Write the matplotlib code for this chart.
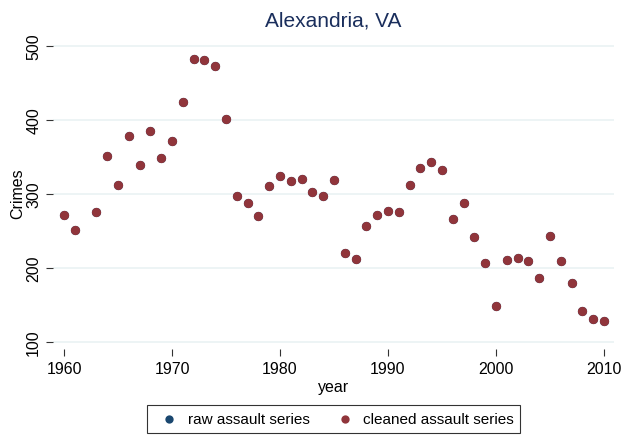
import matplotlib.pyplot as plt

plt.rcParams['font.family'] = ['Liberation Sans', 'DejaVu Sans']

# year / crimes (1962 missing in the source)
years = [1960, 1961, 1963, 1964, 1965, 1966, 1967, 1968, 1969, 1970,
         1971, 1972, 1973, 1974, 1975, 1976, 1977, 1978, 1979, 1980,
         1981, 1982, 1983, 1984, 1985, 1986, 1987, 1988, 1989, 1990,
         1991, 1992, 1993, 1994, 1995, 1996, 1997, 1998, 1999, 2000,
         2001, 2002, 2003, 2004, 2005, 2006, 2007, 2008, 2009, 2010]
raw_assault = [271, 251, 275, 351, 312, 378, 339, 385, 348, 371,
               424, 482, 481, 473, 401, 297, 288, 270, 311, 324,
               317, 320, 302, 297, 319, 220, 212, 256, 271, 277,
               275, 312, 335, 343, 332, 266, 288, 242, 206, 148,
               210, 213, 209, 186, 243, 209, 179, 142, 131, 128]
cleaned_assault = list(raw_assault)

xticks = [1960, 1970, 1980, 1990, 2000, 2010]
yticks = [100, 200, 300, 400, 500]

fig = plt.figure(figsize=(6.25, 4.39), dpi=100)
ax = fig.add_axes([0.0848, 0.2027, 0.8976, 0.7107])

ax.scatter(years, raw_assault, s=44, color='#1a476f', linewidths=0,
           label='raw assault series', zorder=3)
ax.scatter(years, cleaned_assault, s=44, color='#90353b', linewidths=0,
           label='cleaned assault series', zorder=4)

ax.set_xlim(1958.98, 2010.93)
ax.set_ylim(90.2, 512.2)
ax.set_xticks(xticks)
ax.set_yticks(yticks)
ax.grid(axis='y', color='#eaf2f3', linewidth=1.2)
ax.set_axisbelow(True)
for s in ax.spines.values():
    s.set_visible(False)
ax.tick_params(axis='both', length=5, width=0.8, color='#333333', labelsize=11.5)
ax.tick_params(axis='y', labelrotation=90)
for lab in ax.get_yticklabels():
    lab.set_va('center')

ax.set_xlabel('year', fontsize=11.5, labelpad=2)
ax.set_ylabel('Crimes', fontsize=11.5, labelpad=1)
ax.set_title('Alexandria, VA', fontsize=15, color='#1a2e5c', pad=8)

leg = fig.legend(loc='center', bbox_to_anchor=(0.534, 0.043), ncol=2,
                 frameon=True, fancybox=False, fontsize=11,
                 handletextpad=0.2, columnspacing=1.3, borderpad=0.45,
                 markerscale=0.9)
leg.get_frame().set_edgecolor('black')
leg.get_frame().set_linewidth(0.8)

fig.savefig('out.png', dpi=100)
